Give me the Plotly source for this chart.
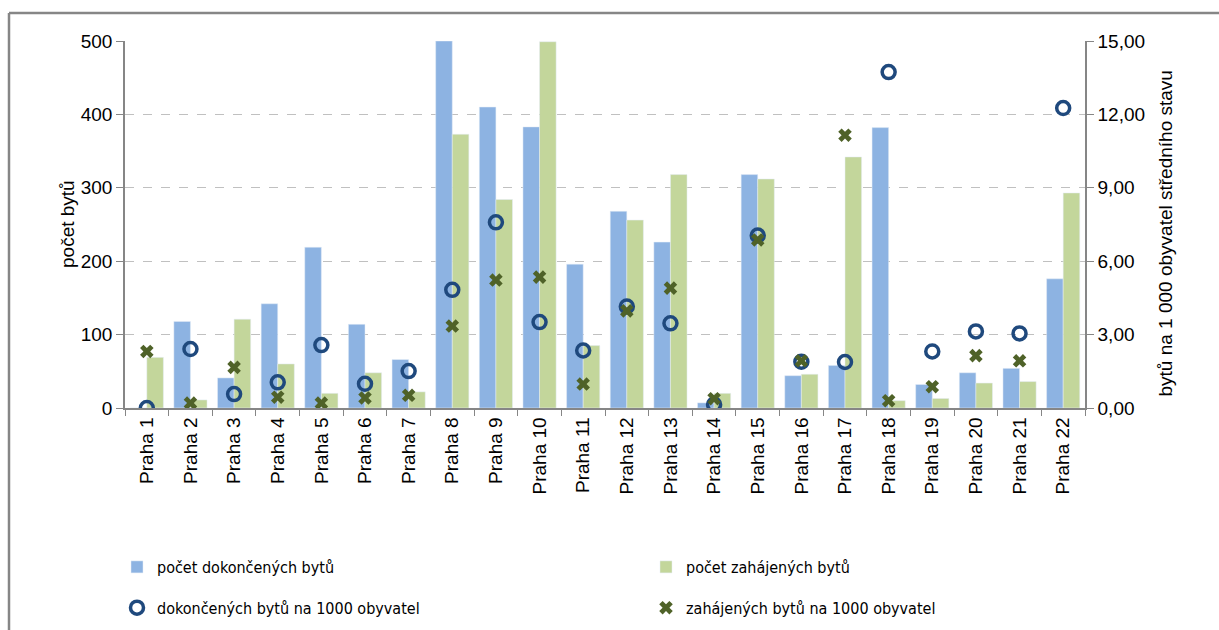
import plotly.graph_objects as go

# Data podle městských částí
casti = ["Praha %d" % i for i in range(1, 23)]

pocet_dokoncenych = [0, 118, 41, 142, 219, 114, 66, 500, 410, 383, 196,
                     268, 226, 7, 318, 44, 58, 382, 32, 48, 54, 176]
pocet_zahajenych = [69, 11, 121, 60, 20, 48, 22, 373, 284, 499, 85,
                    256, 318, 20, 312, 46, 342, 10, 13, 34, 36, 293]
dokoncenych_na_1000 = [0.00, 2.41, 0.57, 1.05, 2.57, 0.99, 1.51, 4.83, 7.59, 3.51, 2.35,
                       4.15, 3.46, 0.14, 7.05, 1.89, 1.88, 13.73, 2.31, 3.13, 3.05, 12.26]
zahajenych_na_1000 = [2.31, 0.20, 1.66, 0.44, 0.20, 0.41, 0.52, 3.35, 5.23, 5.35, 0.98,
                      3.97, 4.90, 0.38, 6.87, 1.93, 11.15, 0.30, 0.87, 2.14, 1.93, None]

FONT = "Liberation Sans, Arial, sans-serif"
NARROW = "Liberation Sans Narrow, DejaVu Sans Condensed, Liberation Sans, Arial, sans-serif"
AXIS_GRAY = "#868686"

W, H = 1219, 630
L, T, PW, PH = 125, 41, 960, 367


def px_x(x):
    """pixel obrázku -> souřadnice paper"""
    return (x - L) / PW


def px_y(y):
    return (T + PH - y) / PH


fig = go.Figure()

fig.add_trace(go.Bar(
    x=casti, y=pocet_dokoncenych, name="počet dokončených bytů",
    marker_color="#8DB3E2", legend="legend", legendgroup="a"
))
fig.add_trace(go.Bar(
    x=casti, y=pocet_zahajenych, name="počet zahájených bytů",
    marker_color="#C3D69B", legend="legend2", legendgroup="c"
))
fig.add_trace(go.Scatter(
    x=casti, y=dokoncenych_na_1000, yaxis="y2", mode="markers",
    name="dokončených bytů na 1000 obyvatel",
    marker=dict(symbol="circle-open", size=13, color="#1F497D", line=dict(width=3.5)),
    legend="legend", legendgroup="b"
))
fig.add_trace(go.Scatter(
    x=casti, y=zahajenych_na_1000, yaxis="y2", mode="markers",
    name="zahájených bytů na 1000 obyvatel",
    marker=dict(symbol="x", size=12, color="#4F6228", line=dict(width=0)),
    legend="legend2", legendgroup="d"
))

legenda = dict(
    orientation="v", yanchor="top", xanchor="left",
    font=dict(family=NARROW, size=16, color="#000000"),
    bgcolor="rgba(0,0,0,0)", tracegroupgap=17, itemwidth=30
)

fig.update_layout(
    width=W, height=H,
    margin=dict(l=L, r=W - L - PW, t=T, b=H - T - PH, autoexpand=False),
    paper_bgcolor="white", plot_bgcolor="white",
    font=dict(family=FONT, size=18, color="#000000"),
    separators=", ",
    barmode="group", bargap=0.24, bargroupgap=0,
    legend=dict(legenda, x=px_x(117), y=px_y(550)),
    legend2=dict(legenda, x=px_x(646), y=px_y(550)),
    xaxis=dict(
        range=[-0.5, len(casti) - 0.5],
        tickangle=-90, tickson="boundaries", ticks="outside", ticklen=6,
        tickcolor=AXIS_GRAY, showline=True, linecolor=AXIS_GRAY, linewidth=1.5,
        tickfont=dict(size=19), showgrid=False
    ),
    yaxis=dict(
        range=[0, 500], dtick=100, ticks="outside", ticklen=7, tickcolor=AXIS_GRAY,
        showline=True, linecolor=AXIS_GRAY, linewidth=1.5,
        showgrid=True, gridcolor="#C0C0C0", griddash="dash", gridwidth=1,
        zeroline=False, tickfont=dict(size=19)
    ),
    yaxis2=dict(
        overlaying="y", side="right", range=[0, 15], dtick=3, tickformat=".2f",
        ticks="outside", ticklen=7, tickcolor=AXIS_GRAY,
        showline=True, linecolor=AXIS_GRAY, linewidth=1.5,
        showgrid=False, zeroline=False, tickfont=dict(size=19)
    ),
)

# Popisky os
fig.add_annotation(
    text="počet bytů", xref="paper", yref="paper", x=px_x(55), y=0.5,
    textangle=-90, showarrow=False, font=dict(size=19)
)
fig.add_annotation(
    text="bytů na 1 000 obyvatel středního stavu", xref="paper", yref="paper",
    x=px_x(1177), y=px_y(234), textangle=-90, showarrow=False, font=dict(size=19)
)

# Rámeček kolem grafu - vidět je jen levý a horní okraj
for x0, y0, x1, y1 in [(9, 13, 9, H + 50), (9, 13, W + 50, 13)]:
    fig.add_shape(
        type="line", xref="paper", yref="paper",
        x0=px_x(x0), y0=px_y(y0), x1=px_x(x1), y1=px_y(y1),
        line=dict(color=AXIS_GRAY, width=2.5), layer="below"
    )

# bez okraje stránky, aby graf začínal v levém horním rohu
fig.write_html(
    "out.html",
    config={"displayModeBar": False},
    post_script="document.body.style.margin='0';document.body.style.overflow='hidden';"
)
